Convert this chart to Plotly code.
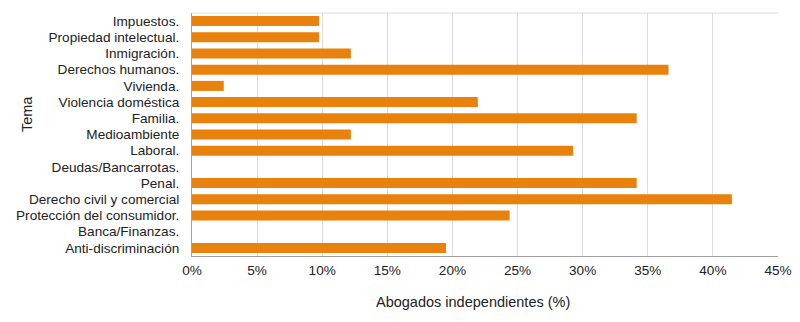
import plotly.graph_objects as go

categories = ["Impuestos.", "Propiedad intelectual.", "Inmigración.", "Derechos humanos.",
              "Vivienda.", "Violencia doméstica", "Familia.", "Medioambiente", "Laboral.",
              "Deudas/Bancarrotas.", "Penal.", "Derecho civil y comercial",
              "Protección del consumidor.", "Banca/Finanzas.", "Anti-discriminación"]
values = [9.76, 9.76, 12.2, 36.59, 2.44, 21.95, 34.15, 12.2, 29.27, 0, 34.15, 41.46, 24.39, 0, 19.51]
x_ticks = [0, 5, 10, 15, 20, 25, 30, 35, 40, 45]
x_tick_labels = [f"{t}%" for t in x_ticks]

font = "Liberation Sans, Arial, sans-serif"

fig = go.Figure(go.Bar(
    x=values, y=categories, orientation="h",
    marker=dict(color="#E8820C", line=dict(width=0)),
))

fig.update_layout(
    width=792, height=314,
    margin=dict(l=184, r=22, t=5, b=66),
    plot_bgcolor="white", paper_bgcolor="white",
    bargap=0.38, showlegend=False,
    font=dict(family=font, size=13.6, color="#222"),
    xaxis=dict(range=[0, 45], tickvals=x_ticks, ticktext=x_tick_labels,
               showgrid=True, gridcolor="#dcdcdc", gridwidth=1,
               showline=True, linecolor="#a0a0a0", linewidth=1,
               zeroline=False, ticks="", ticklabelstandoff=2,
               tickfont=dict(size=13.6, color="#222")),
    yaxis=dict(categoryorder="array", categoryarray=categories, autorange="reversed",
               showgrid=False, showline=True, linecolor="#a0a0a0", linewidth=1,
               ticks="", ticklabelstandoff=9, tickfont=dict(size=13.6, color="#222")),
    shapes=[dict(type="line", xref="paper", yref="paper", x0=0, x1=1, y0=1, y1=1,
                 line=dict(color="#dcdcdc", width=1))],
    annotations=[
        dict(text="Tema", xref="paper", yref="paper", x=-0.2816, y=0.584, textangle=-90,
             showarrow=False, font=dict(size=14.5, color="#222"), xanchor="center", yanchor="middle"),
        dict(text="Abogados independientes (%)", xref="paper", yref="paper", x=0.4795, y=-0.189,
             showarrow=False, font=dict(size=14.5, color="#222"), xanchor="center", yanchor="middle"),
    ],
)

fig.write_html("out.html")
